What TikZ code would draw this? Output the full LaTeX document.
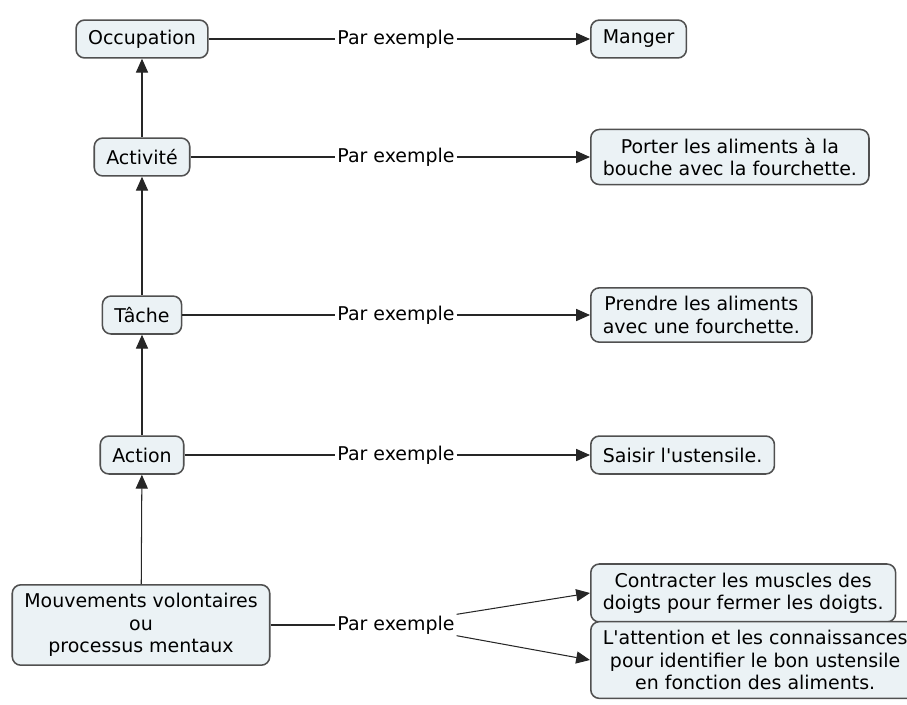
\documentclass[tikz,border=0pt]{standalone}
\usepackage{fontspec}
\newfontfamily\mapfont{DejaVu Sans}
\usetikzlibrary{positioning}
\usetikzlibrary {arrows.meta}
\definecolor{boxfill}{HTML}{EBF2F5}
\definecolor{boxline}{HTML}{505050}
\tikzset{concept/.style={rectangle,rounded corners=5pt,draw=boxline,fill=boxfill,
line width=0.9pt,inner xsep=7pt,inner ysep=5pt,minimum height=22pt,align=center,
font=\mapfont\fontsize{11}{13}\selectfont}}
\tikzset{example/.style={concept,anchor=west}}
\tikzset{linkword/.style={rectangle,draw=none,inner sep=1pt,
font=\mapfont\fontsize{11}{13}\selectfont}}
\tikzset{link/.style={line width=0.6pt,draw=black!85}}
\tikzset{linkarrow/.style={link,-{Triangle[length=8pt,width=7pt]}}}

\begin{document}
\begin{tikzpicture}[x=0.58pt,y=-0.58pt]
    \useasboundingbox (0,0) rectangle (907,704);

        \node[concept] (occ) at (142,39) {Occupation};
        \node[concept] (act) at (142,157) {Activité};
        \node[concept] (tache) at (142,315) {Tâche};
        \node[concept] (action) at (142,455) {Action};
        \node[concept] (mouv) at (141,625) {Mouvements volontaires\\ou\\processus mentaux};

        \node[example] (manger) at (590,39) {Manger};
        \node[example] (porter) at (590,157) {Porter les aliments à la\\bouche avec la fourchette.};
        \node[example] (prendre) at (590,315) {Prendre les aliments\\avec une fourchette.};
        \node[example] (saisir) at (590,455) {Saisir l'ustensile.};
        \node[example] (contr) at (590,593) {Contracter les muscles des\\doigts pour fermer les doigts.};
        \node[example] (attn) at (590,660) {L'attention et les connaissances\\pour identifier le bon ustensile\\en fonction des aliments.};

        \node[linkword] (peA) at (396,39) {Par exemple};
        \node[linkword] (peB) at (396,157) {Par exemple};
        \node[linkword] (peC) at (396,315) {Par exemple};
        \node[linkword] (peD) at (396,455) {Par exemple};
        \node[linkword] (peE) at (396,625) {Par exemple};

        \draw[linkarrow] (act) -- (occ);
        \draw[linkarrow] (tache) -- (act);
        \draw[linkarrow] (action) -- (tache);
        \draw[linkarrow] (mouv) -- (action);

        \draw[link] (occ) -- (peA);
        \draw[linkarrow] (peA) -- (manger);
        \draw[link] (act) -- (peB);
        \draw[linkarrow] (peB) -- (porter);
        \draw[link] (tache) -- (peC);
        \draw[linkarrow] (peC) -- (prendre);
        \draw[link] (action) -- (peD);
        \draw[linkarrow] (peD) -- (saisir);
        \draw[link] (mouv) -- (peE);
        \draw[linkarrow] (peE.10) -- (contr.west);
        \draw[linkarrow] (peE.-10) -- (attn.west);

\end{tikzpicture}
\end{document}
